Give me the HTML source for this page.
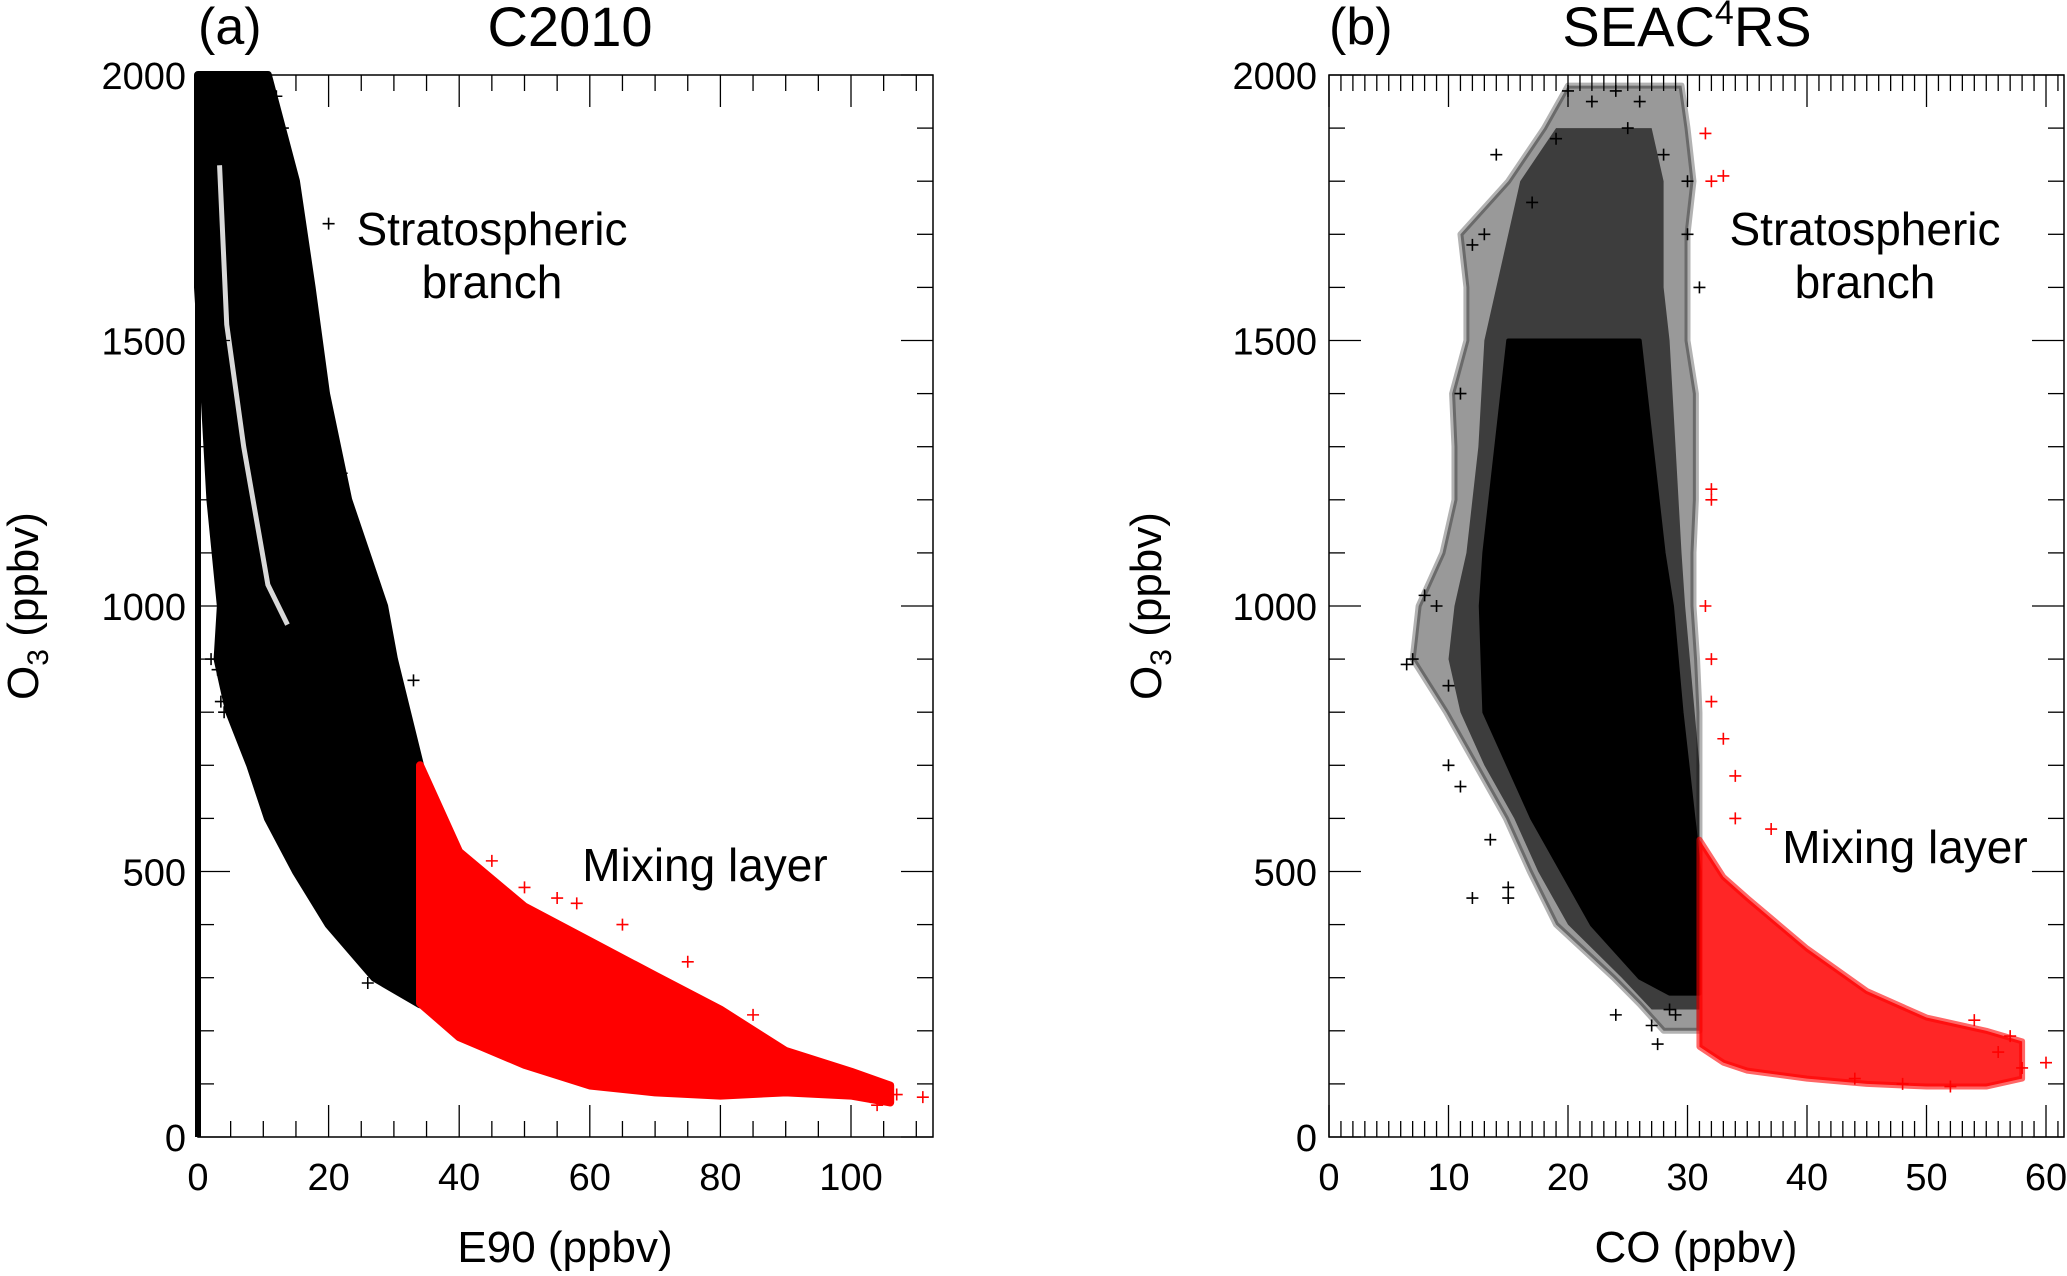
<!DOCTYPE html>
<html><head><meta charset="utf-8"><style>
html,body{margin:0;padding:0;background:#fff;}
svg{display:block;font-family:"Liberation Sans",sans-serif;}
</style></head><body>
<svg id="fig" width="2067" height="1276" viewBox="0 0 2067 1276" xmlns="http://www.w3.org/2000/svg">
<g id="pa"></g>
<g id="pb"></g>
<text x="198" y="44" font-size="52">(a)</text>
<text x="570" y="46" font-size="56" text-anchor="middle">C2010</text>
<text x="1329" y="44" font-size="52">(b)</text>
<text x="1687" y="46" font-size="56" text-anchor="middle">SEAC<tspan font-size="34" dy="-22">4</tspan><tspan dy="22">RS</tspan></text>
<text x="492" y="245" font-size="46" text-anchor="middle">Stratospheric</text>
<text x="492" y="298" font-size="46" text-anchor="middle">branch</text>
<text x="705" y="881" font-size="46" text-anchor="middle">Mixing layer</text>
<text x="1865" y="245" font-size="46" text-anchor="middle">Stratospheric</text>
<text x="1865" y="298" font-size="46" text-anchor="middle">branch</text>
<text x="1905" y="863" font-size="46" text-anchor="middle">Mixing layer</text>
<text x="565" y="1262" font-size="44" text-anchor="middle">E90 (ppbv)</text>
<text x="1696" y="1262" font-size="44" text-anchor="middle">CO (ppbv)</text>
<text transform="translate(38,606) rotate(-90)" font-size="44" text-anchor="middle">O<tspan font-size="30" dy="10">3</tspan><tspan dy="-10"> (ppbv)</tspan></text>
<text transform="translate(1161,606) rotate(-90)" font-size="44" text-anchor="middle">O<tspan font-size="30" dy="10">3</tspan><tspan dy="-10"> (ppbv)</tspan></text>
</svg>
<script>
// ---- Panel A data ----
const aBlackO3   = [2000,1800,1600,1500,1400,1200,1000,900,800,700,600,500,400,300,250];
const aBlackXmin = [0,0,0,0.5,1,1.9,3.5,3,4.8,8,10.7,15,20,27,34];
const aBlackXmax = [10.7,15,17.4,18.5,19.6,23,28.5,30,32,34,34,34,34,34,34];
const aRedX      = [34,40,50,60,70,80,90,100,106];
const aRedTop    = [700,537,434,369,304,240,162,123,97];
const aRedBot    = [252,188,136,97,84,78,84,78,65];
const aGapX      = [3.3,4.4,7,10.7,13.7];
const aGapO3     = [1830,1530,1300,1040,965];
const aBlackPtsX = [2,3,4,5,3.5,25,28,26,20,18,12,13,22,24,33,16];
const aBlackPtsY = [900,880,800,850,820,340,300,290,1720,1470,1960,1900,1250,1150,860,1620];
const aRedPtsX   = [111,104,103,58,55,50,45,95,107,85,75,65];
const aRedPtsY   = [75,60,75,440,450,470,520,95,80,230,330,400];
const aXTicks    = [0,20,40,60,80,100];
const aYTicks    = [0,500,1000,1500,2000];
// ---- Panel B data ----
const bOuterO3   = [1980,1900,1800,1700,1600,1500,1400,1300,1200,1100,1000,900,800,700,600,500,400,300,250,200];
const bOuterL    = [20,18,15,11,11.5,11.5,10.3,10.5,10.5,9.5,7.5,7,9.8,12.3,14.8,16.8,19,23.8,26,28];
const bOuterR    = [29.5,30,30.5,30,30,30,30.7,30.7,30.7,30.5,30.5,30.8,31,31,31,31,31,31,31,31];
const bMidO3     = [1900,1800,1600,1500,1300,1100,1000,900,800,700,600,500,400,300,240];
const bMidL      = [19,16,14,13,12.5,11.5,10.5,10,11,13,15.5,17.5,20,24.5,27];
const bMidR      = [27,28,28,28.5,29,29.5,29.8,30.2,30.6,31,31,31,31,31,31];
const bCoreO3    = [1500,1300,1100,1000,800,700,600,500,400,300,270];
const bCoreL     = [15,14,13,12.7,13,15,17,19.5,22,26,28.5];
const bCoreR     = [26,27,28,28.7,29.5,30,30.5,31,31,31,31];
const bRedX      = [31,33,35,40,45,50,55,58];
const bRedTop    = [560,490,450,355,275,225,200,180];
const bRedBot    = [170,140,125,110,100,95,95,110];
const bBlackPtsX = [7,9,11,12,13,20,24,26,19,14,30,28,12,15,24,27,29,10,10,31,30,22,17,25,6.5,8,11,13.5,15,28.5,27.5];
const bBlackPtsY = [900,1000,1400,1680,1700,1970,1970,1950,1880,1850,1800,1850,450,450,230,210,230,700,850,1600,1700,1950,1760,1900,890,1020,660,560,470,240,175];
const bRedPtsX   = [31.5,32,33,32,32,31.5,32,33,34,56,58,60,54,57,52,48,44,34,37,32];
const bRedPtsY   = [1890,1800,1810,1220,1200,1000,900,750,600,160,130,140,220,190,95,100,110,680,580,820];
const bXTicks    = [0,10,20,30,40,50,60];
const bYTicks    = [0,500,1000,1500,2000];

const NS="http://www.w3.org/2000/svg";
function mk(parent,tag,attrs){const e=document.createElementNS(NS,tag);for(const k in attrs)e.setAttribute(k,attrs[k]);parent.appendChild(e);return e;}
const yTop=75,yBot=1137;
function yScale(v){return yBot-(v/2000)*(yBot-yTop);}
const aL=198,aR=933,aXmax=(933-198)/6.53;
const ax=v=>aL+v*6.53;
const bL=1329,bR=2064,bXmax=(2064-1329)/11.95;
const bx=v=>bL+v*11.95;
const ay=yScale, by=yScale;

function plus(g,x,y,c){
  const p=mk(g,'path',{d:`M${x-6},${y}h12M${x},${y-6}v12`,stroke:c,'stroke-width':1.6,fill:'none'});
  
  
}
function band(g,o3,l,r,xs,attrs,name){
  let pts=[];
  o3.forEach((o,i)=>pts.push(xs(r[i])+','+yScale(o)));
  for(let i=o3.length-1;i>=0;i--)pts.push(xs(l[i])+','+yScale(o3[i]));
  const a=Object.assign({points:pts.join(' ')},attrs);
  const p=mk(g,'polygon',a);
  
  
}
function axes(g,L,R,xs,xMax,minorStep,majorStep,xTicks,yTicks,tickName){
  const f=mk(g,'rect',{x:L,y:yTop,width:R-L,height:yBot-yTop,fill:'none',stroke:'#000','stroke-width':1.5});
  
  
  for(let v=0;v<=xMax+1e-6;v+=minorStep){
    const major=Math.abs(v/majorStep-Math.round(v/majorStep))<1e-6;
    const len=major?32:16,x=xs(v);
    mk(g,'line',{x1:x,y1:yBot,x2:x,y2:yBot-len,stroke:'#000','stroke-width':1.3});
    mk(g,'line',{x1:x,y1:yTop,x2:x,y2:yTop+len,stroke:'#000','stroke-width':1.3});
  }
  for(let v=0;v<=2000;v+=100){
    const len=(v%500===0)?32:16,y=yScale(v);
    mk(g,'line',{x1:R,y1:y,x2:R-len,y2:y,stroke:'#000','stroke-width':1.3});
    mk(g,'line',{x1:L,y1:y,x2:L+len,y2:y,stroke:'#000','stroke-width':1.3});
  }
  xTicks.forEach(v=>{
    const t=mk(g,'text',{x:xs(v),y:1190,'font-size':38,'text-anchor':'middle'});
    t.textContent=v;
    
    
  });
  yTicks.forEach(v=>{
    const t=mk(g,'text',{x:L-12,y:yScale(v)+14,'font-size':38,'text-anchor':'end'});
    t.textContent=v;
    
    
  });
}
// ---- Draw panel A ----
const pa=document.getElementById('pa');
{
  band(pa,aBlackO3,aBlackXmin,aBlackXmax,ax,{fill:'#000',stroke:'#000','stroke-width':8,'stroke-linejoin':'round'},'stratospheric-branch-cloud-a');
  const gp=mk(pa,'polyline',{points:aGapX.map((x,i)=>ax(x)+','+ay(aGapO3[i])).join(' '),fill:'none',stroke:'#fff','stroke-width':5,opacity:0.85});
  
  
  let r=[];
  aRedX.forEach((x,i)=>r.push(ax(x)+','+ay(aRedTop[i])));
  for(let i=aRedX.length-1;i>=0;i--)r.push(ax(aRedX[i])+','+ay(aRedBot[i]));
  const rp=mk(pa,'polygon',{points:r.join(' '),fill:'#ff0000',stroke:'#ff0000','stroke-width':8,'stroke-linejoin':'round'});
  
  
  aBlackPtsX.forEach((x,i)=>plus(pa,ax(x),ay(aBlackPtsY[i]),'#000'));
  aRedPtsX.forEach((x,i)=>plus(pa,ax(x),ay(aRedPtsY[i]),'#ff0000'));
  mk(pa,'line',{x1:aL,y1:yTop,x2:aL,y2:yBot,stroke:'#000','stroke-width':6});
  axes(pa,aL,aR,ax,aXmax,5,20,aXTicks,aYTicks,'a');
}
// ---- Draw panel B ----
const pb=document.getElementById('pb');
{
  band(pb,bOuterO3,bOuterL,bOuterR,bx,{fill:'#000','fill-opacity':0.4,stroke:'#000','stroke-opacity':0.3,'stroke-width':6,'stroke-linejoin':'round'},'stratospheric-branch-cloud-b');
  band(pb,bMidO3,bMidL,bMidR,bx,{fill:'#000','fill-opacity':0.6,stroke:'none'},'mid-density-b');
  band(pb,bCoreO3,bCoreL,bCoreR,bx,{fill:'#000',stroke:'#000','stroke-width':4,'stroke-linejoin':'round'},'dense-core-b');
  let r=[];
  bRedX.forEach((x,i)=>r.push(bx(x)+','+by(bRedTop[i])));
  for(let i=bRedX.length-1;i>=0;i--)r.push(bx(bRedX[i])+','+by(bRedBot[i]));
  const rp=mk(pb,'polygon',{points:r.join(' '),fill:'#ff0000','fill-opacity':0.85,stroke:'#ff0000','stroke-opacity':0.6,'stroke-width':6,'stroke-linejoin':'round'});
  
  
  bBlackPtsX.forEach((x,i)=>plus(pb,bx(x),by(bBlackPtsY[i]),'#000'));
  bRedPtsX.forEach((x,i)=>plus(pb,bx(x),by(bRedPtsY[i]),'#ff0000'));
  axes(pb,bL,bR,bx,bXmax,1,10,bXTicks,bYTicks,'b');
}
</script>
</body></html>
